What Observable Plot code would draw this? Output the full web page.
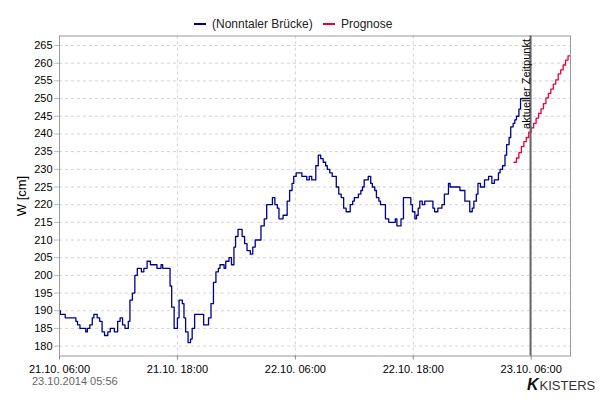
<!DOCTYPE html>
<html><head><meta charset="utf-8">
<script src="https://cdn.jsdelivr.net/npm/d3@7"></script>
<script src="https://cdn.jsdelivr.net/npm/@observablehq/plot@0.6"></script>
<style>
body{margin:0;background:#fff;font-family:"Liberation Sans",Arial,sans-serif;}
#wrap{position:relative;width:600px;height:400px;overflow:hidden;background:#fff}
#legend{height:30px;position:relative;font-size:12px;color:#222}
#legend .item{position:absolute;top:18px;display:flex;align-items:center;height:12px;line-height:12px;white-space:nowrap}
#legend .sw{display:inline-block;width:12px;height:1.5px;margin-right:6px}
#chart svg{display:block}
#stamp{position:absolute;left:32px;top:375px;font-size:11px;line-height:12px;color:#666}
#logo{position:absolute;left:527px;top:378px;font-size:13px;line-height:13px;color:#333;white-space:nowrap}
#logo b{font-style:italic;font-size:16px;color:#111;margin-right:2px;letter-spacing:-1px}
</style></head><body>
<div id="wrap">
  <div id="legend"></div>
  <div id="chart"></div>
  <div id="stamp"></div>
  <div id="logo"><b>K</b>KISTERS</div>
</div>
<script>
// ---- data ----
const startTime = "2014-10-21T06:00Z";
const endTime = "2014-10-23T10:00Z";
const nowTime = "2014-10-23T05:56Z";
const stampText = "23.10.2014  05:56";
const nowLabel = "aktueller Zeitpunkt";
const yLabel = "W [cm]";
const seriesNames = ["(Nonntaler Brücke)", "Prognose"];
const seriesColors = ["#000090", "#e8003d"];
const xTicks = ["2014-10-21T06:00Z", "2014-10-21T18:00Z", "2014-10-22T06:00Z", "2014-10-22T18:00Z", "2014-10-23T06:00Z"];
const yTicks = [180,185,190,195,200,205,210,215,220,225,230,235,240,245,250,255,260,265];

// minutes after start (step changes) and water level [cm]
const levelMinutes = [0,5,35,100,110,125,160,170,185,200,
210,230,245,260,275,295,310,335,355,370,
385,400,420,430,445,460,475,500,515,535,
555,595,620,630,675,685,700,720,730,750,
760,770,785,800,810,825,880,910,925,940,
955,970,980,1005,1015,1035,1050,1065,1075,1090,
1115,1130,1145,1165,1180,1195,1230,1250,1265,1300,
1315,1330,1340,1365,1390,1405,1420,1430,1445,1480,
1510,1525,1540,1565,1580,1595,1610,1625,1635,1650,
1665,1690,1705,1720,1735,1750,1775,1790,1800,1825,
1840,1850,1860,1885,1900,1910,1925,1935,1950,1960,
1990,2010,2050,2060,2085,2100,2145,2155,2170,2180,
2190,2200,2215,2230,2280,2290,2310,2335,2350,2375,
2385,2445,2475,2505,2520,2530,2545,2555,2570,2595,
2620,2640,2655,2680,2690,2705,2720,2730,2745,2755,
2770,2780,2790,2805,2815,2865];
const levelValues = [190,189,188,187,186,185,184,185,186,188,
189,188,187,184,183,184,185,184,187,188,
186,185,187,193,195,200,202,201,202,204,
203,202,203,202,197,191,185,188,193,192,
188,184,181,182,185,189,186,188,192,198,
201,202,203,202,204,205,203,208,211,213,
211,209,207,206,208,210,214,216,220,222,
220,219,216,217,221,224,226,228,229,228,
227,228,227,231,234,233,232,231,230,229,
228,225,223,222,219,218,220,221,222,223,
224,225,227,228,226,225,224,222,221,220,
216,215,216,214,216,222,220,218,216,217,
219,221,220,221,219,218,219,220,223,226,
225,224,221,218,219,221,223,226,225,227,
228,226,227,229,230,231,234,237,239,242,
243,244,245,247,250,250];
const forecastMinutes = [2775,2790,2805,2820,2835,2850,2865,2880,2895,2910,2925,2940,2955,2970,2985,3000,3015,3030,3045,3060,3075,3090,3105,3120];
const forecastValues = [232,233.2,234.7,236.4,237.8,239,240.5,241.7,243,244.5,245.8,247.1,248.6,250.2,251.5,252.7,254.1,255.3,257,258.1,259.5,260.9,262.1,262.1];

// ---- build ----
const t0 = new Date(startTime).getTime();
const toDate = m => new Date(t0 + m * 60000);
const observed = levelMinutes.map((m, i) => ({time: toDate(m), value: levelValues[i]}));
const forecast = forecastMinutes.map((m, i) => ({time: toDate(m), value: forecastValues[i]}));
const xTickDates = xTicks.map(d => new Date(d));
const nowDate = new Date(nowTime);

// legend
const legend = document.getElementById("legend");
const legendLeft = [194, 323];
seriesNames.forEach((name, i) => {
  const it = document.createElement("div");
  it.className = "item";
  it.style.left = legendLeft[i] + "px";
  const sw = document.createElement("span");
  sw.className = "sw";
  sw.style.background = seriesColors[i];
  it.appendChild(sw);
  it.appendChild(document.createTextNode(name));
  legend.appendChild(it);
});
document.getElementById("stamp").textContent = stampText;

const font = '"Liberation Sans", Arial, sans-serif';
const chart = Plot.plot({
  width: 600,
  height: 345,
  marginTop: 5.5,
  marginBottom: 19.5,
  marginLeft: 59,
  marginRight: 30,
  style: {fontFamily: font, fontSize: "11px", color: "#000", background: "#fff", overflow: "visible"},
  x: {type: "utc", domain: [new Date(startTime), new Date(endTime)]},
  y: {domain: [177.2, 267.7]},
  marks: [
    Plot.gridY(yTicks, {stroke: "#d4d4d4", strokeOpacity: 1, strokeDasharray: "3,3"}),
    Plot.gridX(xTickDates, {stroke: "#d4d4d4", strokeOpacity: 1, strokeDasharray: "3,3"}),
    Plot.line(observed, {x: "time", y: "value", curve: "step-after", stroke: seriesColors[0], strokeWidth: 1.3}),
    Plot.line(forecast, {x: "time", y: "value", curve: "step-after", stroke: seriesColors[1], strokeWidth: 1.3}),
    Plot.frame({stroke: "#999"}),
    Plot.ruleX([nowDate], {stroke: "#666", strokeWidth: 2}),
    Plot.text([nowDate], {x: d => d, text: () => nowLabel, frameAnchor: "top", rotate: -90, textAnchor: "end", dx: -8, dy: 3, fontSize: 11, fill: "#000"}),
    Plot.axisX(xTickDates, {tickFormat: d3.utcFormat("%d.%m. %H:%M"), tickSize: 4, tickPadding: 5, stroke: "#888", label: null}),
    Plot.axisY(yTicks, {tickSize: 5, tickPadding: 2, stroke: "#bbb", label: yLabel, labelAnchor: "center", labelArrow: "none", labelOffset: 43, fontSize: 11})
  ]
});
chart.querySelectorAll("text").forEach(t => {
  if (t.textContent === yLabel) t.setAttribute("font-size", "13");
});
document.getElementById("chart").appendChild(chart);
</script>
</body></html>
